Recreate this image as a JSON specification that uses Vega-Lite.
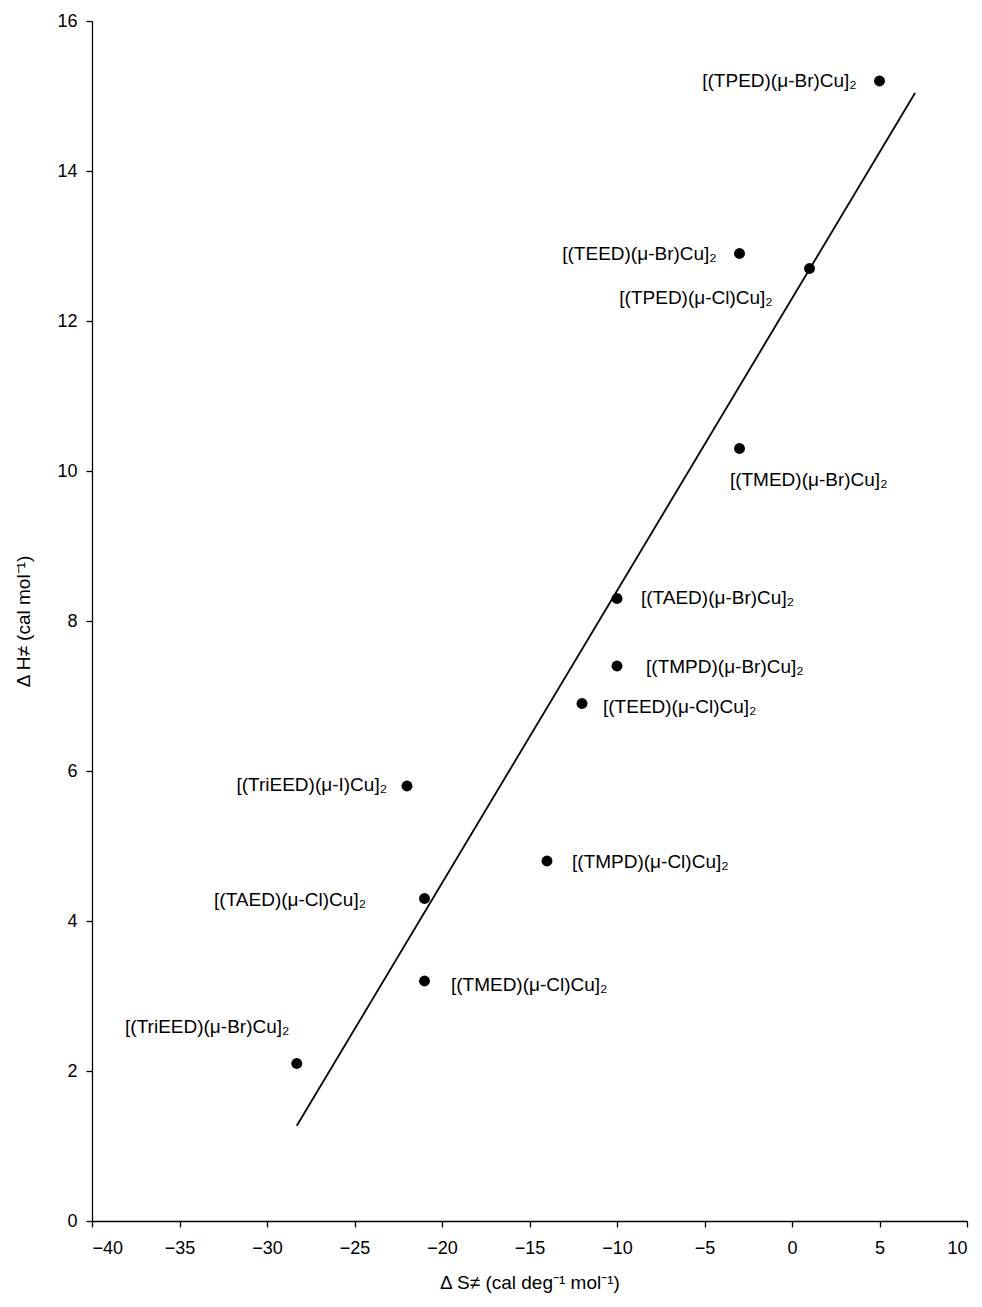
{
  "$schema": "https://vega.github.io/schema/vega-lite/v6.json",
  "width": 875,
  "height": 1200,
  "autosize": {"type": "none"},
  "padding": {"left": 92, "top": 21, "right": 15, "bottom": 86},
  "background": "white",
  "config": {
    "view": {"stroke": null},
    "font": "Liberation Sans",
    "axis": {
      "grid": false,
      "domainColor": "black",
      "tickColor": "black",
      "labelColor": "black",
      "titleColor": "black",
      "labelFontSize": 18,
      "titleFontSize": 19,
      "titleFontWeight": "normal",
      "tickSize": 6,
      "domainWidth": 1.3,
      "tickWidth": 1.3,
      "labelFont": "Liberation Sans",
      "titleFont": "Liberation Sans"
    }
  },
  "datasets": {
    "points": [
      {"dS": 5, "dH": 15.2, "name": "[(TPED)(μ-Br)Cu]₂", "lx": 3.7, "ly": 15.2, "side": "left"},
      {"dS": -3, "dH": 12.9, "name": "[(TEED)(μ-Br)Cu]₂", "lx": -4.3, "ly": 12.9, "side": "left"},
      {"dS": 1, "dH": 12.7, "name": "[(TPED)(μ-Cl)Cu]₂", "lx": -1.1, "ly": 12.31, "side": "left"},
      {"dS": -3, "dH": 10.3, "name": "[(TMED)(μ-Br)Cu]₂", "lx": -3.55, "ly": 9.88, "side": "right"},
      {"dS": -10, "dH": 8.3, "name": "[(TAED)(μ-Br)Cu]₂", "lx": -8.63, "ly": 8.31, "side": "right"},
      {"dS": -10, "dH": 7.4, "name": "[(TMPD)(μ-Br)Cu]₂", "lx": -8.34, "ly": 7.39, "side": "right"},
      {"dS": -12, "dH": 6.9, "name": "[(TEED)(μ-Cl)Cu]₂", "lx": -10.8, "ly": 6.85, "side": "right"},
      {"dS": -22, "dH": 5.8, "name": "[(TriEED)(μ-I)Cu]₂", "lx": -23.14, "ly": 5.81, "side": "left"},
      {"dS": -14, "dH": 4.8, "name": "[(TMPD)(μ-Cl)Cu]₂", "lx": -12.57, "ly": 4.79, "side": "right"},
      {"dS": -21, "dH": 4.3, "name": "[(TAED)(μ-Cl)Cu]₂", "lx": -24.34, "ly": 4.28, "side": "left"},
      {"dS": -21, "dH": 3.2, "name": "[(TMED)(μ-Cl)Cu]₂", "lx": -19.49, "ly": 3.15, "side": "right"},
      {"dS": -28.3, "dH": 2.1, "name": "[(TriEED)(μ-Br)Cu]₂", "lx": -38.11, "ly": 2.59, "side": "right"}
    ],
    "fit": [
      {"dS": -28.3, "dH": 1.27},
      {"dS": 7.03, "dH": 15.04}
    ]
  },
  "layer": [
    {
      "data": {"name": "fit"},
      "mark": {"type": "line", "color": "black", "strokeWidth": 1.8},
      "encoding": {
        "x": {"field": "dS", "type": "quantitative", "scale": {"domain": [-40, 10], "nice": false, "zero": false},
              "axis": {"values": [-40, -35, -30, -25, -20, -15, -10, -5, 0, 5, 10], "format": "d", "title": "Δ S≠ (cal deg⁻¹ mol⁻¹)", "titlePadding": 16, "labelPadding": 12}},
        "y": {"field": "dH", "type": "quantitative", "scale": {"domain": [0, 16], "nice": false},
              "axis": {"values": [0, 2, 4, 6, 8, 10, 12, 14, 16], "format": "d", "title": "Δ H≠ (cal mol⁻¹)", "titlePadding": 23, "labelPadding": 9}}
      }
    },
    {
      "data": {"name": "points"},
      "mark": {"type": "point", "filled": true, "color": "black", "size": 120, "opacity": 1},
      "encoding": {
        "x": {"field": "dS", "type": "quantitative"},
        "y": {"field": "dH", "type": "quantitative"}
      }
    },
    {
      "data": {"name": "points"},
      "transform": [{"filter": "datum.side === 'left'"}],
      "mark": {"type": "text", "align": "right", "baseline": "middle", "fontSize": 19, "color": "black", "font": "Liberation Sans"},
      "encoding": {
        "x": {"field": "lx", "type": "quantitative"},
        "y": {"field": "ly", "type": "quantitative"},
        "text": {"field": "name"}
      }
    },
    {
      "data": {"name": "points"},
      "transform": [{"filter": "datum.side === 'right'"}],
      "mark": {"type": "text", "align": "left", "baseline": "middle", "fontSize": 19, "color": "black", "font": "Liberation Sans"},
      "encoding": {
        "x": {"field": "lx", "type": "quantitative"},
        "y": {"field": "ly", "type": "quantitative"},
        "text": {"field": "name"}
      }
    }
  ]
}
